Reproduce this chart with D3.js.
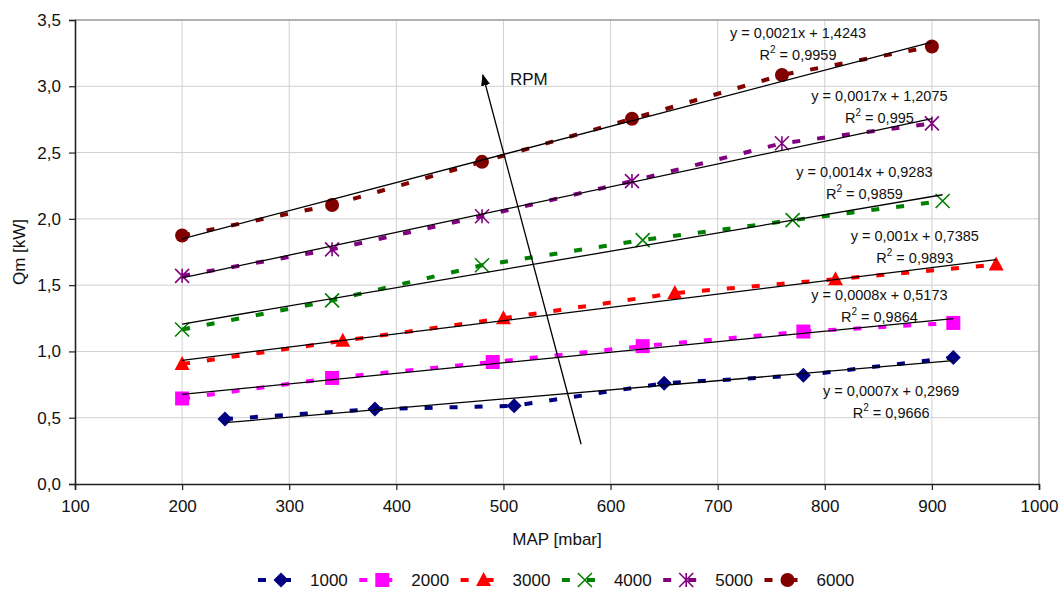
<!DOCTYPE html>
<html>
<head>
<meta charset="utf-8">
<script src="https://cdn.jsdelivr.net/npm/d3@7"></script>
<style>
body { margin: 0; background: #fff; }
svg { font-family: "Liberation Sans", Arial, sans-serif; }
</style>
</head>
<body>
<svg id="chart" width="1061" height="590"></svg>
<script>
// series
var rpm = ['1000', '2000', '3000', '4000', '5000', '6000'];
var colors = ['#000080', '#ff00ff', '#ff0000', '#008000', '#800080', '#800000'];
var shapes = ['diamond', 'square', 'triangle', 'x', 'star', 'circle'];
var mapValues = [
  [240, 380, 510, 650, 780, 920],
  [200, 340, 490, 630, 780, 920],
  [200, 350, 500, 660, 810, 960],
  [200, 340, 480, 630, 770, 910],
  [200, 340, 480, 620, 760, 900],
  [200, 340, 480, 620, 760, 900]
];
var qmValues = [
  [0.49, 0.565, 0.59, 0.76, 0.82, 0.955],
  [0.645, 0.80, 0.92, 1.04, 1.15, 1.215],
  [0.905, 1.08, 1.25, 1.44, 1.545, 1.655],
  [1.165, 1.385, 1.65, 1.84, 1.99, 2.135],
  [1.57, 1.77, 2.02, 2.285, 2.57, 2.72],
  [1.875, 2.105, 2.43, 2.755, 3.085, 3.30]
];
var eqLabels = ['y = 0,0007x + 0,2969', 'y = 0,0008x + 0,5173', 'y = 0,001x + 0,7385',
                'y = 0,0014x + 0,9283', 'y = 0,0017x + 1,2075', 'y = 0,0021x + 1,4243'];
var r2Labels = ['0,9666', '0,9864', '0,9893', '0,9859', '0,995', '0,9959'];
// where each equation sits, in MAP / Qm units
var eqAnchor = [[862, 0.70], [851, 1.425], [884, 1.87], [837, 2.35], [851, 2.925], [775, 3.40]];
var xTicks = [100, 200, 300, 400, 500, 600, 700, 800, 900, 1000];
var yTicks = [0, 0.5, 1, 1.5, 2, 2.5, 3, 3.5];
var arrowFrom = [572.5, 0.30], arrowTo = [480.8, 3.085];

var svg = d3.select('#chart'),
    width = +svg.attr('width'),
    height = +svg.attr('height');
var margin = {top: 20, right: 22, bottom: 106, left: 75};
var x = d3.scaleLinear().domain([100, 1000]).range([margin.left, width - margin.right]);
var y = d3.scaleLinear().domain([0, 3.5]).range([height - margin.bottom, margin.top]);
var fmt = function (d) { return d3.format('.1f')(d).replace('.', ','); };

var defs = svg.append('defs');
defs.append('marker').attr('id', 'head')
  .attr('viewBox', '0 0 10 10').attr('refX', 9).attr('refY', 5)
  .attr('markerWidth', 9).attr('markerHeight', 9).attr('orient', 'auto')
  .append('path').attr('d', 'M0,1 L10,5 L0,9 Z').attr('fill', '#000');

// gridlines
svg.append('g').selectAll('line').data(xTicks.slice(1, -1)).enter().append('line')
  .attr('x1', x).attr('x2', x).attr('y1', y(0)).attr('y2', y(3.5))
  .attr('stroke', '#d0d0d0').attr('stroke-width', 1);
svg.append('g').selectAll('line').data(yTicks.slice(1, -1)).enter().append('line')
  .attr('x1', x(100)).attr('x2', x(1000)).attr('y1', y).attr('y2', y)
  .attr('stroke', '#d0d0d0').attr('stroke-width', 1);
// top and right border
svg.append('path')
  .attr('d', 'M' + x(100) + ',' + y(3.5) + 'H' + x(1000) + 'V' + y(0))
  .attr('fill', 'none').attr('stroke', '#999').attr('stroke-width', 1.3);

// axes
var xAxis = svg.append('g').attr('transform', 'translate(0,' + y(0) + ')')
  .call(d3.axisBottom(x).tickValues(xTicks).tickSize(6).tickPadding(10).tickFormat(d3.format('d')));
var yAxis = svg.append('g').attr('transform', 'translate(' + x(100) + ',0)')
  .call(d3.axisLeft(y).tickValues(yTicks).tickSize(6).tickPadding(8).tickFormat(fmt));
[xAxis, yAxis].forEach(function (a) {
  a.select('.domain').attr('stroke', '#222').attr('stroke-width', 1.6);
  a.selectAll('.tick line').attr('stroke', '#222').attr('stroke-width', 1.2);
  a.selectAll('text').attr('font-size', 17).attr('fill', '#111')
    .attr('font-family', '"Liberation Sans", Arial, sans-serif');
});

svg.append('text').attr('x', (x(100) + x(1000)) / 2).attr('y', 539)
  .attr('text-anchor', 'middle').attr('dominant-baseline', 'central')
  .attr('font-size', 17).attr('fill', '#111').text('MAP [mbar]');
svg.append('text').attr('transform', 'translate(19,' + ((y(0) + y(3.5)) / 2) + ') rotate(-90)')
  .attr('text-anchor', 'middle').attr('dominant-baseline', 'central')
  .attr('font-size', 17).attr('fill', '#111').text('Qm [kW]');

function markerPath(shape) {
  var h = 7;
  if (shape === 'diamond') return 'M0,' + (-h - 0.5) + 'L' + (h + 0.5) + ',0L0,' + (h + 0.5) + 'L' + (-h - 0.5) + ',0Z';
  if (shape === 'square') return 'M' + -h + ',' + -h + 'H' + h + 'V' + h + 'H' + -h + 'Z';
  if (shape === 'triangle') return 'M0,' + (-h - 1) + 'L' + (h + 0.5) + ',' + (h - 1) + 'L' + (-h - 0.5) + ',' + (h - 1) + 'Z';
  if (shape === 'x') return 'M' + -h + ',' + -h + 'L' + h + ',' + h + 'M' + -h + ',' + h + 'L' + h + ',' + -h;
  if (shape === 'star') return 'M' + -h + ',' + -h + 'L' + h + ',' + h + 'M' + -h + ',' + h + 'L' + h + ',' + -h + 'M0,' + -h + 'V' + h;
  return null;
}
function drawMarker(g, shape, color, cx, cy) {
  if (shape === 'circle') {
    g.append('circle').attr('cx', cx).attr('cy', cy).attr('r', 7).attr('fill', color);
    return;
  }
  var stroked = shape === 'x' || shape === 'star';
  g.append('path').attr('d', markerPath(shape))
    .attr('transform', 'translate(' + cx + ',' + cy + ')')
    .attr('fill', stroked ? 'none' : color)
    .attr('stroke', stroked ? color : 'none')
    .attr('stroke-width', 1.6);
}

var line = d3.line().x(function (d) { return x(d[0]); }).y(function (d) { return y(d[1]); });

rpm.forEach(function (name, i) {
  var pts = d3.zip(mapValues[i], qmValues[i]);
  var g = svg.append('g').attr('class', 'series-' + name);
  g.append('path').datum(pts).attr('d', line)
    .attr('fill', 'none').attr('stroke', colors[i])
    .attr('stroke-width', 4).attr('stroke-dasharray', '8,17');
  pts.forEach(function (p) { drawMarker(g, shapes[i], colors[i], x(p[0]), y(p[1])); });
});

// linear trend lines, least squares on each series
rpm.forEach(function (name, i) {
  var xs = mapValues[i], ys = qmValues[i];
  var mx = d3.mean(xs), my = d3.mean(ys);
  var sxy = d3.sum(xs, function (v, k) { return (v - mx) * (ys[k] - my); });
  var sxx = d3.sum(xs, function (v) { return (v - mx) * (v - mx); });
  var slope = sxy / sxx, icpt = my - slope * mx;
  var ends = d3.extent(xs).map(function (v) { return [v, icpt + slope * v]; });
  svg.append('path').datum(ends).attr('d', line)
    .attr('fill', 'none').attr('stroke', '#000').attr('stroke-width', 1.3);
});

// equation labels
rpm.forEach(function (name, i) {
  var cx = x(eqAnchor[i][0]), cy = y(eqAnchor[i][1]);
  svg.append('text').attr('x', cx).attr('y', cy)
    .attr('text-anchor', 'middle').attr('dominant-baseline', 'central')
    .attr('font-size', 14.5).attr('fill', '#111').text(eqLabels[i]);
  var t = svg.append('text').attr('x', cx).attr('y', cy + 22)
    .attr('text-anchor', 'middle').attr('dominant-baseline', 'central')
    .attr('font-size', 14.5).attr('fill', '#111');
  t.append('tspan').text('R');
  t.append('tspan').attr('dy', -6).attr('font-size', 10).text('2');
  t.append('tspan').attr('dy', 6).text(' = ' + r2Labels[i]);
});

// RPM arrow
svg.append('line')
  .attr('x1', x(arrowFrom[0])).attr('y1', y(arrowFrom[1]))
  .attr('x2', x(arrowTo[0])).attr('y2', y(arrowTo[1]))
  .attr('stroke', '#000').attr('stroke-width', 1.3).attr('marker-end', 'url(#head)');
svg.append('text').attr('x', x(arrowTo[0]) + 27).attr('y', y(arrowTo[1]) + 4)
  .attr('dominant-baseline', 'central').attr('font-size', 17).attr('fill', '#111').text('RPM');

// legend
var legend = svg.append('g').attr('transform', 'translate(258,580)');
rpm.forEach(function (name, i) {
  var lg = legend.append('g').attr('transform', 'translate(' + (i * 101.3) + ',0)');
  lg.append('line').attr('x1', 0).attr('x2', 34).attr('y1', 0).attr('y2', 0)
    .attr('stroke', colors[i]).attr('stroke-width', 4).attr('stroke-dasharray', '8,17');
  drawMarker(lg, shapes[i], colors[i], 23, 0);
  lg.append('text').attr('x', 52).attr('y', 0).attr('dominant-baseline', 'central')
    .attr('font-size', 17).attr('fill', '#111').text(name);
});
</script>
</body>
</html>
